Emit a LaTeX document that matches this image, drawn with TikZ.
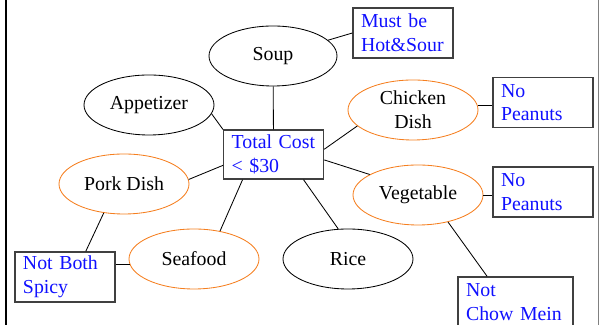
\documentclass[tikz,border=0pt]{standalone}
\usepackage{fontspec}
\setmainfont{Liberation Serif}
\usepackage{tikz}
\usetikzlibrary{shapes.geometric}
\definecolor{dishorange}{HTML}{F57F20}
\definecolor{noteblue}{HTML}{1010FF}

\begin{document}
\begin{tikzpicture}[font=\fontsize{14.1}{17}\selectfont,
    course/.style={ellipse, draw, line width=0.6pt, minimum width=3.25cm, minimum height=1.5cm, inner sep=0pt, align=center},
    dish/.style={course, draw=dishorange},
    note/.style={rectangle, draw=black!75, line width=0.9pt, text=noteblue, align=left, inner xsep=0.2cm, inner ysep=0pt, text width=2.1cm, minimum height=1.25cm},
    link/.style={draw, line width=0.6pt}]
  \useasboundingbox (0,0) rectangle (15,8.125);
  % Okraje
  \draw[line width=1.5pt] (0.15,0) -- (0.15,8.125);
  \draw[gray, line width=0.7pt] (14.96,0) -- (14.96,8.125);
  % Chody
  \node[course, minimum width=3.2cm] (soup) at (6.825,6.725) {Soup};
  \node[course] (appetizer) at (3.725,5.5) {Appetizer};
  \node[dish] (chicken) at (10.325,5.375) {Chicken\\Dish};
  \node[dish] (pork) at (3.1,3.525) {Pork Dish};
  \node[dish] (vegetable) at (10.45,3.25) {Vegetable};
  \node[dish] (seafood) at (4.85,1.65) {Seafood};
  \node[course] (rice) at (8.7,1.65) {Rice};
  % Podminky
  \node[note, minimum height=1.225cm] (total) at (6.84,4.26) {Total Cost\\{<} \$30};
  \node[note] (hotsour) at (10.075,7.3) {Must be\\Hot\&Sour};
  \node[note] (nopeanutsA) at (13.575,5.56) {No\\Peanuts};
  \node[note] (nopeanutsB) at (13.575,3.325) {No\\Peanuts};
  \node[note] (notspicy) at (1.625,1.2) {Not Both\\Spicy};
  \node[note, text width=2.475cm] (chowmein) at (12.89,0.575) {Not\\Chow Mein};
  % Spojnice
  \draw[link] (soup) -- (total);
  \draw[link] (appetizer.-8) -- (total.north west);
  \draw[link] (chicken.196) -- (total.6);
  \draw[link] (vegetable.157) -- (total.-6);
  \draw[link] (rice.108) -- (total.-40);
  \draw[link] (seafood.47) -- (total.-141);
  \draw[link] (pork.4) -- (total.192);
  \draw[link] (pork.235) -- (notspicy.51);
  \draw[link] (seafood.185) -- (seafood.185 -| notspicy.east);
  \draw[link] (soup.16) -- (hotsour.west);
  \draw[link] (chicken.4) -- (chicken.4 -| nopeanutsA.west);
  \draw[link] (vegetable.east) -- (vegetable.east -| nopeanutsB.west);
  \draw[link] (vegetable.-42) -- (chowmein.138);
\end{tikzpicture}
\end{document}
